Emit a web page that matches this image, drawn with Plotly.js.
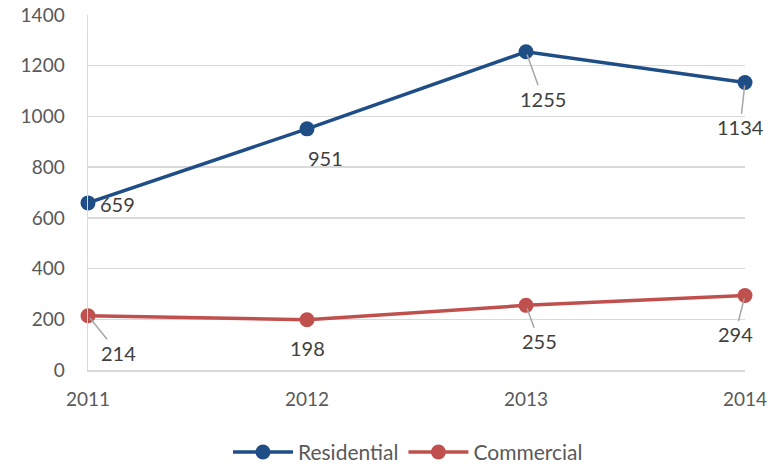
<!DOCTYPE html>
<html><head><meta charset="utf-8">
<script src="https://cdn.plot.ly/plotly-3.0.1.min.js"></script>
<style>html,body{margin:0;padding:0;background:#fff;}</style>
</head><body>
<div id="chart" style="width:779px;height:464px;"></div>
<script>
const years = [2011, 2012, 2013, 2014];
const residential = [659, 951, 1255, 1134];
const commercial = [214, 198, 255, 294];
const yTicks = [0, 200, 400, 600, 800, 1000, 1200, 1400];

const blue = '#1F4E86';
const red = '#C0504D';

// label offsets (pixels) from each point, and whether a leader line is visible
const resOff = [[29, 1, false], [18, 29, false], [17, 47, true], [-5, 45, true]];
const comOff = [[30, 37, true], [0, 28, false], [13, 36, true], [-10, 39, true]];

const annotations = [];
function addLabels(vals, offs) {
  vals.forEach((v, i) => {
    annotations.push({
      x: years[i], y: v, xref: 'x', yref: 'y',
      text: String(v), showarrow: true, arrowhead: 0, arrowwidth: 1.5,
      arrowcolor: offs[i][2] ? '#a6a6a6' : 'rgba(0,0,0,0)',
      ax: offs[i][0], ay: offs[i][1], standoff: 3,
      font: {family: 'Lato, "Open Sans", sans-serif', size: 20, color: '#404040'}
    });
  });
}
addLabels(residential, resOff);
addLabels(commercial, comOff);

const traces = [
  {x: years, y: residential, name: 'Residential', type: 'scatter', mode: 'lines+markers',
   line: {color: blue, width: 3.5}, marker: {color: blue, size: 15}, cliponaxis: false},
  {x: years, y: commercial, name: 'Commercial', type: 'scatter', mode: 'lines+markers',
   line: {color: red, width: 3.5}, marker: {color: red, size: 15}, cliponaxis: false}
];

const layout = {
  width: 779, height: 464,
  margin: {l: 88, r: 34, t: 15, b: 94, autoexpand: false},
  paper_bgcolor: '#fff', plot_bgcolor: '#fff',
  font: {family: 'Lato, "Open Sans", sans-serif', size: 19, color: '#595959'},
  xaxis: {
    range: [2011, 2014], tickvals: years, ticktext: years.map(String),
    showgrid: false, zeroline: false, showline: true, linecolor: '#d9d9d9', linewidth: 1.5,
    ticks: 'outside', ticklen: 12, tickcolor: 'rgba(0,0,0,0)', fixedrange: true
  },
  yaxis: {
    range: [0, 1400], tickvals: yTicks, ticktext: yTicks.map(String),
    showgrid: true, gridcolor: '#d9d9d9', gridwidth: 1.5, zeroline: false,
    showline: true, linecolor: '#d9d9d9', linewidth: 1.5,
    ticks: 'outside', ticklen: 18, tickcolor: 'rgba(0,0,0,0)', fixedrange: true
  },
  showlegend: true,
  legend: {orientation: 'h', x: 0.487, xanchor: 'center', yref: 'container', y: 0.025, yanchor: 'middle',
           font: {size: 21, color: '#595959'}, itemwidth: 60},
  annotations: annotations
};

Plotly.newPlot('chart', traces, layout, {displayModeBar: false, staticPlot: true});
</script>
</body></html>
